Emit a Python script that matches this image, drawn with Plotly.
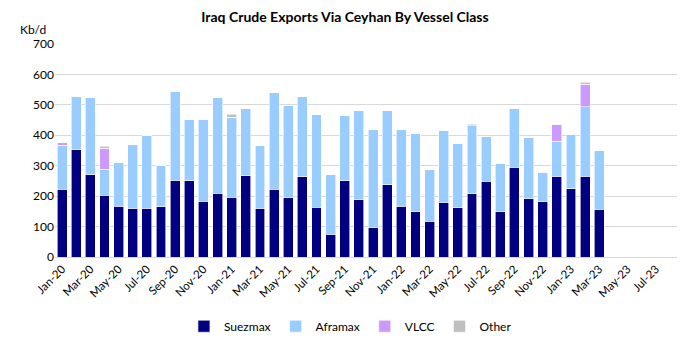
import plotly.graph_objects as go

months = ["Jan-20","Feb-20","Mar-20","Apr-20","May-20","Jun-20","Jul-20","Aug-20","Sep-20","Oct-20","Nov-20","Dec-20",
          "Jan-21","Feb-21","Mar-21","Apr-21","May-21","Jun-21","Jul-21","Aug-21","Sep-21","Oct-21","Nov-21","Dec-21",
          "Jan-22","Feb-22","Mar-22","Apr-22","May-22","Jun-22","Jul-22","Aug-22","Sep-22","Oct-22","Nov-22","Dec-22",
          "Jan-23","Feb-23","Mar-23","Apr-23","May-23","Jun-23","Jul-23","Aug-23"]

suezmax = [223,352,271,203,167,161,161,165,253,250,184,209,
           196,267,160,222,194,264,164,75,250,188,96,237,
           167,149,117,180,162,208,249,149,295,192,182,265,
           224,265,157]
aframax = [144,175,254,86,144,208,238,135,292,203,269,316,
           264,221,207,317,305,263,305,196,215,294,324,246,
           251,257,171,237,212,223,146,159,193,200,96,115,
           180,228,194]
vlcc = [10,2,0,68,0,0,0,0,0,0,0,0,
        0,0,0,0,0,0,0,0,0,0,0,0,
        0,0,0,0,0,0,0,0,0,0,3,56,
        0,75,0]
other = [0,0,0,7,0,0,0,0,0,0,0,0,
         9,0,0,0,0,0,0,0,0,0,0,0,
         0,0,0,0,0,5,0,0,0,0,0,0,
         0,6,0]

tick_labels = months[::2]

n = len(suezmax)
x = months[:n]

series = [
    ("Suezmax", suezmax, "#000080"),
    ("Aframax", aframax, "#99CCFF"),
    ("VLCC", vlcc, "#CC99FF"),
    ("Other", other, "#BFBFBF"),
]

fig = go.Figure()
for name, vals, col in series:
    fig.add_trace(go.Bar(
        x=x, y=vals, name=name,
        marker=dict(color=col, line=dict(color="white", width=0.6)),
    ))

font_family = "Lato, 'Open Sans', Arial, sans-serif"

fig.update_layout(
    barmode="stack",
    bargap=0.3,
    width=690, height=345,
    margin=dict(l=55, r=13, t=44, b=88, autoexpand=False),
    paper_bgcolor="white",
    plot_bgcolor="white",
    font=dict(family=font_family, size=12, color="#000000"),
    title=dict(text="<b>Iraq Crude Exports Via Ceyhan By Vessel Class</b>",
               x=0.5, xanchor="center", y=0.95, yanchor="middle",
               font=dict(size=14, family=font_family)),
    showlegend=True,
    legend=dict(orientation="h", x=0.475, xanchor="center", y=-0.325, yanchor="middle",
                font=dict(size=12), traceorder="normal", itemwidth=30),
    xaxis=dict(
        type="category",
        categoryorder="array", categoryarray=months,
        range=[-0.5, len(months) - 0.5],
        tickmode="array", tickvals=tick_labels, ticktext=tick_labels,
        tickangle=-45, tickfont=dict(size=11.5),
        showline=True, linecolor="#D9D9D9", linewidth=1,
        showgrid=False, ticks="", automargin=False,
    ),
    yaxis=dict(
        range=[0, 700], dtick=100,
        showgrid=True, gridcolor="#D9D9D9", gridwidth=1,
        zeroline=False, ticks="", tickfont=dict(size=12), automargin=False,
    ),
)

fig.add_annotation(text="Kb/d", xref="paper", yref="paper", x=-0.06, y=1.07,
                   xanchor="left", yanchor="middle", showarrow=False,
                   font=dict(size=12, family=font_family))

fig.write_html("out.html")
